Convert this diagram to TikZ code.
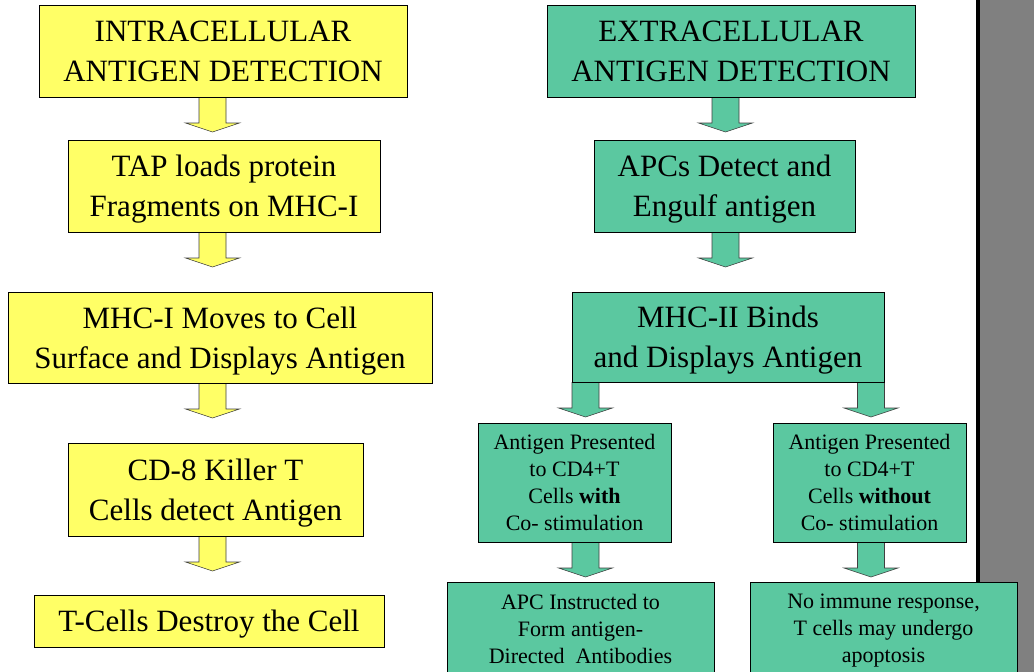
\documentclass[tikz,border=0pt]{standalone}
\usepackage{fontspec}
\setmainfont{Liberation Serif}
\usetikzlibrary{calc,backgrounds}
\definecolor{boxyellow}{RGB}{255,255,102}
\definecolor{boxgreen}{RGB}{91,200,160}
\definecolor{bargray}{RGB}{128,128,128}
\tikzset{
  box/.style={draw=black, line width=0.8pt, inner sep=0pt, outer sep=0pt,
    align=center, text depth=0pt},
  ybox/.style={box, fill=boxyellow},
  gbox/.style={box, fill=boxgreen},
  bigtext/.style={font=\fontsize{31pt}{40pt}\selectfont},
  smalltext/.style={font=\fontsize{22pt}{27pt}\selectfont},
  yarrow/.style={fill=boxyellow, draw=black!75, line width=0.6pt, line join=miter},
  garrow/.style={fill=boxgreen, draw=black!75, line width=0.6pt, line join=miter},
}
\newcommand\fatarrow[4]{% from, to, axis, style
  \coordinate (fa-s) at (#1.south -| #3);
  \coordinate (fa-e) at (#2.north -| #3);
  \coordinate (fa-hb) at ($(fa-s)!26pt!(fa-e)$);
  \coordinate (fa-tp) at ($(fa-s)!35pt!(fa-e)$);
  \filldraw[#4] ($(fa-s)+(-13.5,0)$) -- ($(fa-hb)+(-13.5,0)$) -- ($(fa-hb)+(-27,0)$)
     -- (fa-tp) -- ($(fa-hb)+(27,0)$) -- ($(fa-hb)+(13.5,0)$) -- ($(fa-s)+(13.5,0)$);
}
\begin{document}
\begin{tikzpicture}[x=1pt,y=-1pt]
\useasboundingbox (0,0) rectangle (1034,672);
% axes of the arrows
\coordinate (axL) at (212.5,0);
\coordinate (axR) at (725.5,0);
\coordinate (axW) at (585.5,0);
\coordinate (axWO) at (871,0);
% left column
\node[ybox, bigtext, minimum width=368pt, minimum height=92pt] (intra) at (223,51) {INTRACELLULAR\\ANTIGEN DETECTION};
\node[ybox, bigtext, minimum width=312pt, minimum height=92pt] (tap) at (224,186) {TAP loads protein\\Fragments on MHC-I};
\node[ybox, bigtext, minimum width=424pt, minimum height=91pt] (mhc1) at (220,337.5) {MHC-I Moves to Cell\\Surface and Displays Antigen};
\node[ybox, bigtext, minimum width=295pt, minimum height=93pt] (cd8) at (215.5,489.5) {CD-8 Killer T\\Cells detect Antigen};
\node[ybox, bigtext, minimum width=350pt, minimum height=52pt] (tcell) at (209,621) {T-Cells Destroy the Cell};
% right column
\node[gbox, bigtext, minimum width=368pt, minimum height=92pt] (extra) at (731,51) {EXTRACELLULAR\\ANTIGEN DETECTION};
\node[gbox, bigtext, minimum width=261pt, minimum height=92pt] (apc) at (724.5,186) {APCs Detect and\\Engulf antigen};
\node[gbox, bigtext, minimum width=312pt, minimum height=90pt] (mhc2) at (728,337) {MHC-II Binds\\and Displays Antigen};
\node[gbox, smalltext, minimum width=193pt, minimum height=119pt] (with) at (574.5,482.5) {Antigen Presented\\to CD4+T\\Cells \textbf{with}\\Co- stimulation};
\node[gbox, smalltext, minimum width=193pt, minimum height=119pt] (without) at (869.5,482.5) {Antigen Presented\\to CD4+T\\Cells \textbf{without}\\Co- stimulation};
\node[gbox, smalltext, minimum width=267pt, minimum height=93pt] (instr) at (580.5,628.5) {APC Instructed to\\Form antigen-\\Directed\ \ Antibodies};
\node[gbox, smalltext, minimum width=267pt, minimum height=93pt] (noimm) at (883.5,628.5) {No immune response,\\T cells may undergo\\apoptosis};
\begin{pgfonlayer}{background}
  \fill[white] (0,0) rectangle (1034,672);
  \fill[bargray] (980,0) rectangle (1034,672);
  \fill[black] (976,0) rectangle (980,672);
  \fatarrow{intra}{tap}{axL}{yarrow}
  \fatarrow{tap}{mhc1}{axL}{yarrow}
  \fatarrow{mhc1}{cd8}{axL}{yarrow}
  \fatarrow{cd8}{tcell}{axL}{yarrow}
  \fatarrow{extra}{apc}{axR}{garrow}
  \fatarrow{apc}{mhc2}{axR}{garrow}
  \fatarrow{mhc2}{with}{axW}{garrow}
  \fatarrow{mhc2}{without}{axWO}{garrow}
  \fatarrow{with}{instr}{axW}{garrow}
  \fatarrow{without}{noimm}{axWO}{garrow}
\end{pgfonlayer}
\end{tikzpicture}
\end{document}
